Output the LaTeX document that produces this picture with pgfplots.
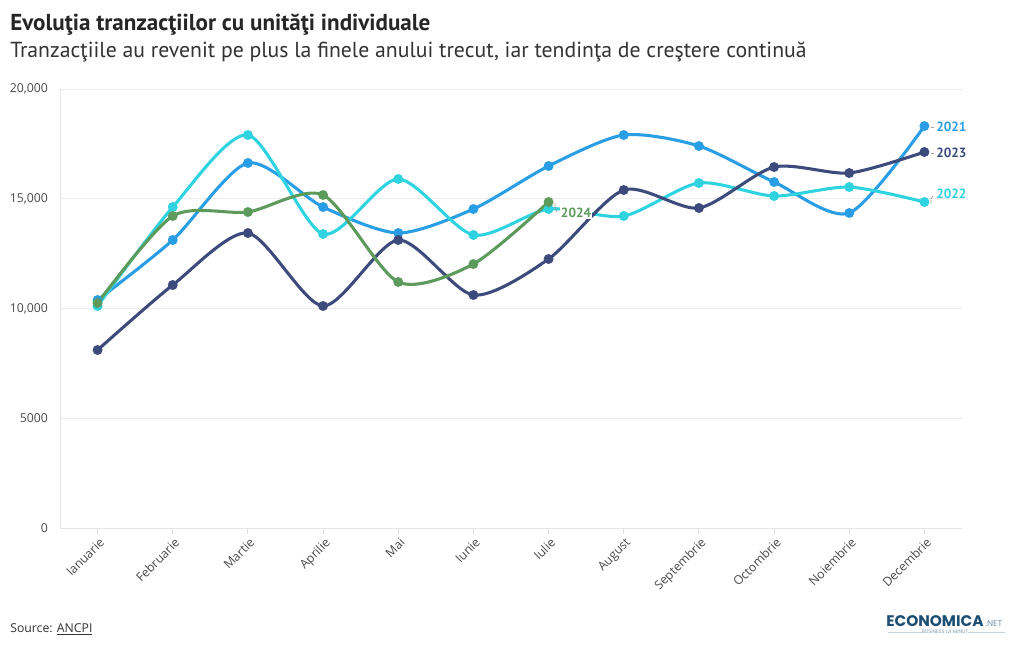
\documentclass[border=0pt]{standalone}
\usepackage{pgfplots}
\pgfplotsset{compat=1.18}
\usepackage{fontspec}
\setmainfont{Open Sans}
\newfontfamily\ptsans{PT Sans}
\newfontfamily\logofont{Poppins}
\definecolor{c21}{HTML}{2A9EE4}
\definecolor{c22}{HTML}{2FD3DF}
\definecolor{c23}{HTML}{3C4B7B}
\definecolor{c24}{HTML}{5C9B5C}
\definecolor{tickc}{HTML}{4A4A4A}
\definecolor{logoc}{HTML}{1D4E74}
\begin{document}
\begin{tikzpicture}
\path[fill=white,use as bounding box] (0pt,0pt) rectangle (765pt,-487.5pt);
\begin{axis}[
  at={(45pt,-396pt)}, anchor=south west,
  scale only axis, width=676.5pt, height=329.25pt,
  xmin=-0.5, xmax=11.5, ymin=0, ymax=20000,
  scaled y ticks=false,
  axis x line*=bottom, axis y line*=left,
  axis line style={draw=black!10, line width=0.75pt},
  ytick={0,5000,10000,15000,20000},
  yticklabels={0,5000,{10,000},{15,000},{20,000}},
  xtick={0,...,11},
  xticklabels={Ianuarie,Februarie,Martie,Aprilie,Mai,Iunie,Iulie,August,Septembrie,Octombrie,Noiembrie,Decembrie},
  ymajorgrids, grid style={draw=black!8, line width=0.75pt},
  tick align=outside,
  x tick style={draw=black!12, line width=0.75pt},
  major tick length=4.5pt,
  y tick style={draw=none},
  tick label style={font=\fontsize{9.2}{11}\selectfont, text=tickc},
  yticklabel style={anchor=east, xshift=-1pt},
  xticklabel style={rotate=45, anchor=north east, inner sep=1pt, yshift=-1pt},
  clip=false,
  every axis plot/.append style={smooth, tension=0.45, line width=2.3pt, mark=*, mark size=2.5pt, mark options={line width=0pt}},
]
\addplot[c21, mark options={fill=c21}] coordinates {
(0,10387) (1,13121) (2,16629) (3,14624) (4,13440) (5,14533) (6,16492) (7,17904) (8,17403) (9,15763) (10,14351) (11,18314)};
\addplot[c22, mark options={fill=c22}] coordinates {
(0,10114) (1,14624) (2,17904) (3,13394) (4,15900) (5,13349) (6,14533) (7,14214) (8,15718) (9,15125) (10,15535) (11,14852)};
\addplot[c23, mark options={fill=c23}] coordinates {
(0,8109) (1,11071) (2,13440) (3,10114) (4,13121) (5,10615) (6,12255) (7,15399) (8,14579) (9,16446) (10,16173) (11,17130)};
\addplot[c24, mark options={fill=c24}] coordinates {
(0,10250) (1,14214) (2,14396) (3,15171) (4,11207) (5,12027) (6,14852)};
\end{axis}
\begin{scope}[x=0.75pt,y=-0.75pt]
\node[anchor=base west, inner sep=0pt, font=\ptsans\bfseries\fontsize{17.3}{20}\selectfont, text=black!85] at (10,30) {Evoluţia tranzacţiilor cu unităţi individuale};
\node[anchor=base west, inner sep=0pt, font=\ptsans\fontsize{16.3}{19}\selectfont, text=black!80] at (10,57) {Tranzacţiile au revenit pe plus la finele anului trecut, iar tendinţa de creştere continuă};
\node[anchor=base west, inner sep=0pt, font=\fontsize{9.2}{11}\selectfont, text=black!80] at (10,632) {Source: \underline{ANCPI}};
% series labels
\draw[black!35, line width=0.6pt] (931,127) -- (934,127);
\node[anchor=west, inner sep=0pt, font=\ptsans\bfseries\fontsize{10}{12}\selectfont, text=c21] at (936,127) {2021};
\draw[black!35, line width=0.6pt] (931,153) -- (934,153);
\node[anchor=west, inner sep=0pt, font=\ptsans\bfseries\fontsize{10}{12}\selectfont, text=c23] at (936,153) {2023};
\draw[black!35, line width=0.6pt] (931,204) -- (931,199) -- (933,196);
\node[anchor=west, inner sep=0pt, font=\ptsans\bfseries\fontsize{10}{12}\selectfont, text=c22] at (936,194) {2022};
\draw[black!35, line width=0.6pt] (555,203) -- (555,208) -- (557,212);
\node[anchor=west, fill=white, inner sep=0.5pt, font=\ptsans\bfseries\fontsize{10}{12}\selectfont, text=c24] at (560,213) {2024};
% logo
\node[anchor=base west, inner sep=0pt, text=logoc] at (886,626) {\resizebox{73pt}{!}{\logofont\bfseries ECONOMICA}};
\node[anchor=base west, inner sep=0pt, text=logoc!60, font=\logofont\fontsize{6.5}{7}\selectfont] at (985,626) {.NET};
\node[inner sep=0pt, text=logoc!55, font=\logofont\fontsize{3.8}{4}\selectfont] at (945,632) {BUSINESS LA MINUT};
\draw[logoc!25, line width=0.4pt] (888,632) -- (922,632) (968,632) -- (1005,632);
\end{scope}
\end{tikzpicture}
\end{document}
